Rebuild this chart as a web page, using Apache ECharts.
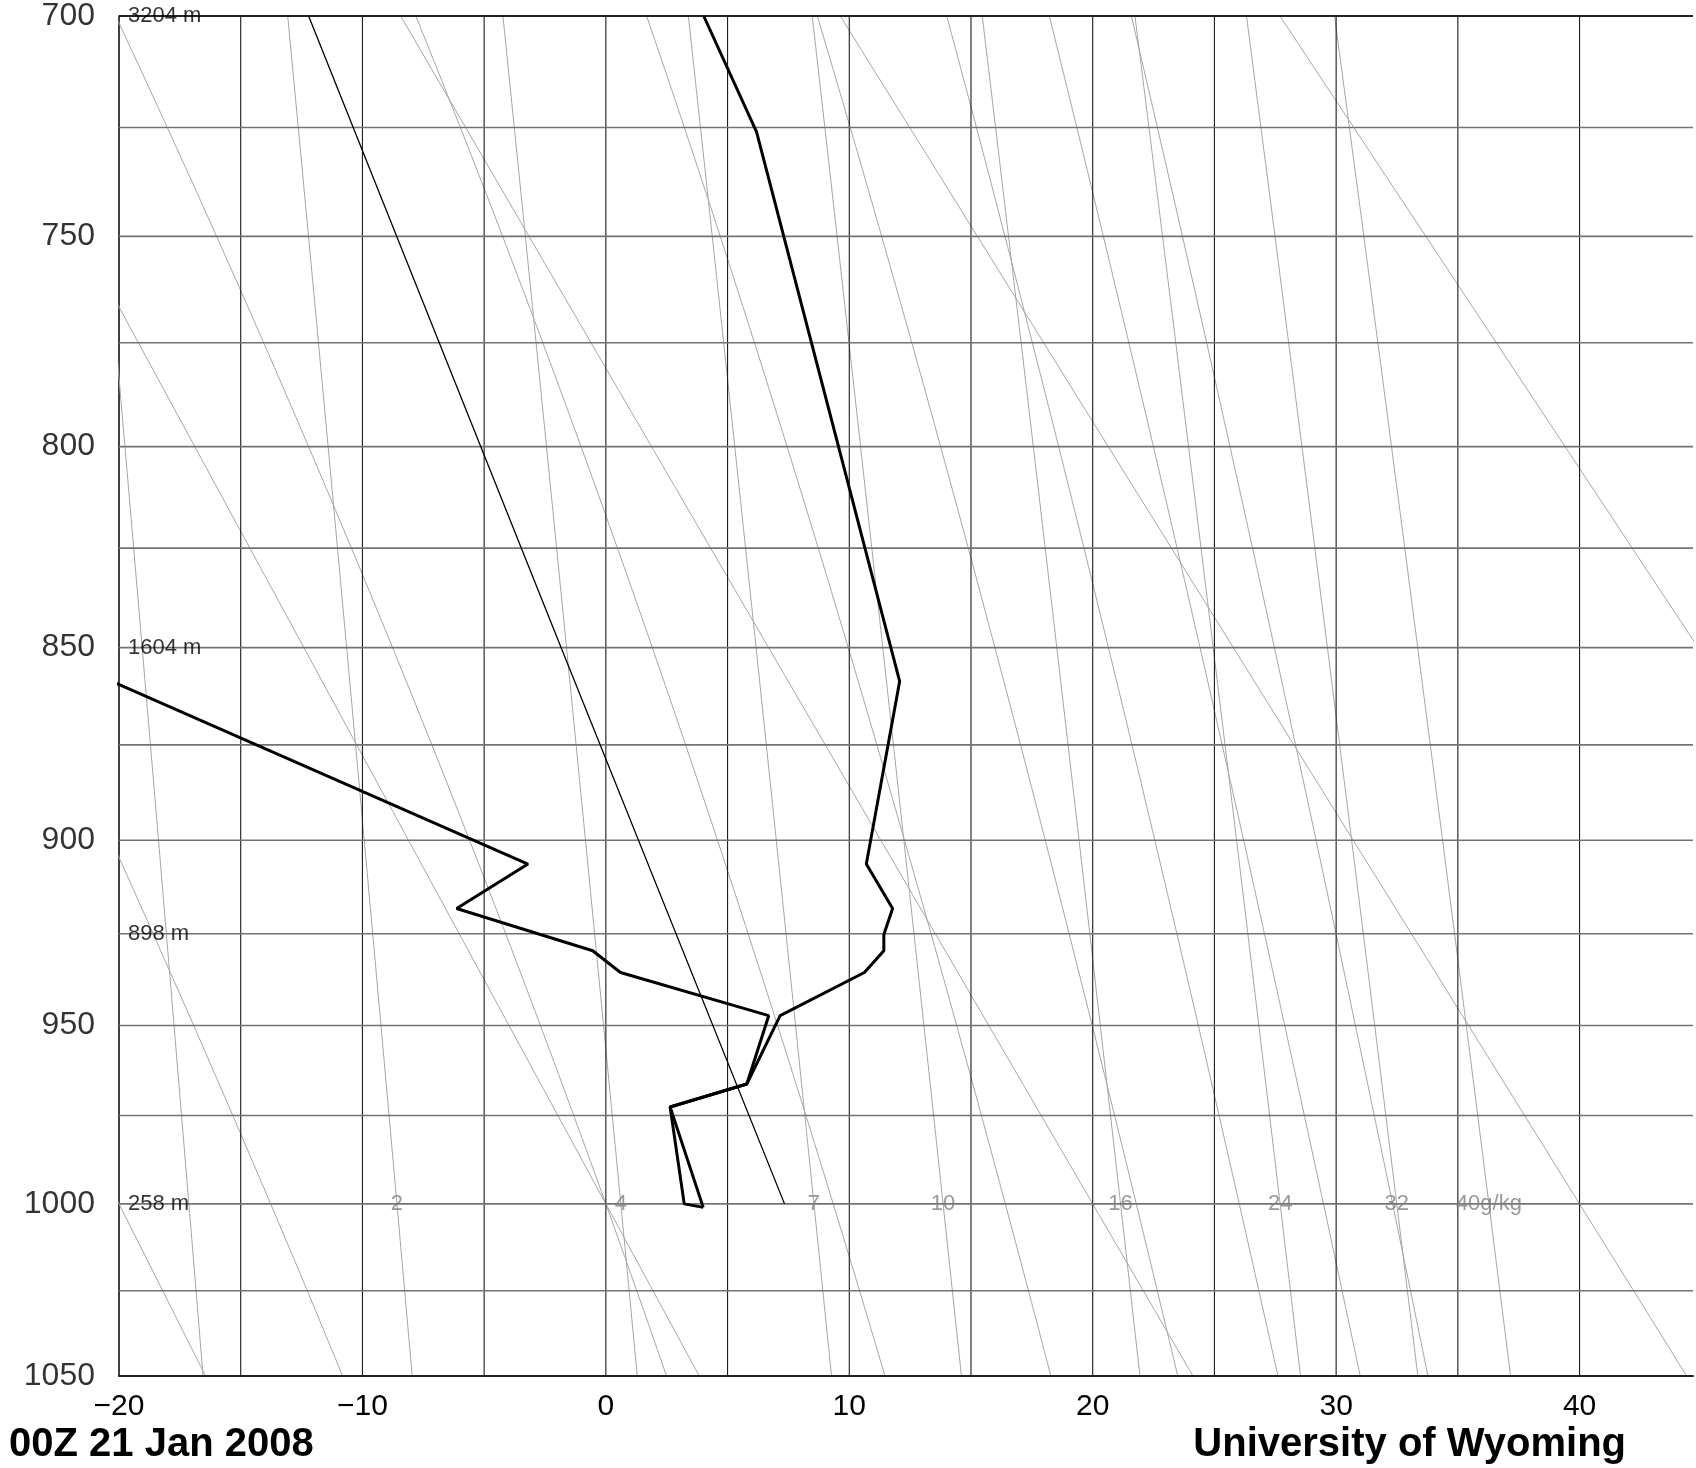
<!DOCTYPE html>
<html>
<head>
<meta charset="utf-8">
<script src="https://cdn.jsdelivr.net/npm/echarts@6/dist/echarts.min.js"></script>
<style>
html,body{margin:0;padding:0;background:#fff;overflow:hidden;}
#chart{width:1696px;height:1468px;}
</style>
</head>
<body>
<div id="chart"></div>
<script>
// ---------- data ----------
const pressureTicks = [700, 750, 800, 850, 900, 950, 1000, 1050];
const minorIsobars = [725, 775, 825, 875, 925, 975, 1025];
const isotherms = [-15, -10, -5, 0, 5, 10, 15, 20, 25, 30, 35, 40];
const heightLevels = [700, 850, 925, 1000];
const heightTexts = ['3204 m', '1604 m', '898 m', '258 m'];

// temperature trace
const tempP = [1001, 972.6, 966.2, 947.3, 935.5, 929.6, 925.2, 918.2, 906.3, 858.6, 726, 700];
const tempT = [4.0, 2.64, 5.79, 7.16, 10.62, 11.42, 11.42, 11.78, 10.70, 12.07, 6.19, 4.02];
// dewpoint trace
const dewP = [1001, 1000, 972.6, 966.2, 947.3, 935.5, 929.6, 918.2, 906.3, 858.6];
const dewT = [4.0, 3.22, 2.64, 5.79, 6.69, 0.60, -0.54, -6.13, -3.20, -20.3];
// thin parcel line
const parcelP = [1000, 850, 700];
const parcelT = [7.34, -1.84, -12.21];

// background diagram lines
const dryAdiabatT1000 = [-20, 0, 20, 40, 60];
const moistAdiabatT1000 = [-13.77, 0, 9.34, 16.41, 21.79, 26.02, 29.48, 32.32];
const mixingRatios = [1, 2, 4, 7, 10, 16, 24, 32, 40];
const mixingLabels = ['', '2', '4', '7', '10', '16', '24', '32', '40g/kg'];

// ---------- helpers ----------
const KAPPA = 0.286;
const py = p => Math.pow(p, KAPPA);
const XMIN = -20, XMAX = 44.66;
const FONT = "'Liberation Sans', Arial, Helvetica, sans-serif";

function es(T) { return 6.112 * Math.exp(17.67 * T / (T + 243.5)); }
function dewFromMix(w, p) {
  const e = w * p / (622 + w);
  const l = Math.log(e / 6.112);
  return 243.5 * l / (17.67 - l);
}
function moistRate(T, p) {
  const Tk = T + 273.15, e = es(T), r = 0.622 * e / (p - e);
  const Rd = 287.04, cp = 1005.7, L = 2.501e6, eps = 0.622;
  return (Rd * Tk + L * r) / (cp + L * L * r * eps / (Rd * Tk * Tk));
}
function moistLine(t1000) {
  function run(pEnd, n) {
    let T = t1000, lp = Math.log(1000);
    const h = (Math.log(pEnd) - lp) / n;
    const out = [[T, py(1000)]];
    for (let i = 0; i < n; i++) {
      const p = Math.exp(lp);
      const k1 = moistRate(T, p);
      const k2 = moistRate(T + h * k1 / 2, Math.exp(lp + h / 2));
      const k3 = moistRate(T + h * k2 / 2, Math.exp(lp + h / 2));
      const k4 = moistRate(T + h * k3, Math.exp(lp + h));
      T += h * (k1 + 2 * k2 + 2 * k3 + k4) / 6;
      lp += h;
      out.push([T, py(Math.exp(lp))]);
    }
    return out;
  }
  const down = run(1050, 10).reverse();
  const up = run(690, 60);
  return down.concat(up.slice(1));
}

const bgStyle = { color: '#a6a6a6', width: 1 };
const series = [];
function addLine(data, style, z) {
  series.push({ type: 'line', data, showSymbol: false, symbol: 'none', silent: true,
    lineStyle: style, z: z || 1, animation: false, clip: true });
}

// isotherms (vertical grid)
isotherms.forEach(t => addLine([[t, py(700)], [t, py(1050)]], { color: '#1a1a1a', width: 1.1 }, 2));
// isobars
minorIsobars.concat(pressureTicks).forEach(p => {
  const edge = (p === 700 || p === 1050);
  addLine([[XMIN, py(p)], [XMAX, py(p)]],
    edge ? { color: '#222', width: 2.2 } : { color: '#737373', width: 1.6 }, 2);
});
// dry adiabats
dryAdiabatT1000.forEach(t0 => {
  const th = t0 + 273.15;
  addLine([1050, 700].map(p => [th * Math.pow(p / 1000, KAPPA) - 273.15, py(p)]), bgStyle, 1);
});
// moist adiabats
moistAdiabatT1000.forEach(t0 => addLine(moistLine(t0), bgStyle, 1));
// mixing ratio lines
mixingRatios.forEach(w => {
  const d = [];
  for (let p = 1050; p >= 700; p -= 25) d.push([dewFromMix(w, p), py(p)]);
  addLine(d, bgStyle, 1);
});
// parcel
addLine(parcelP.map((p, i) => [parcelT[i], py(p)]), { color: '#000', width: 1.3 }, 5);
// temperature & dewpoint
addLine(tempP.map((p, i) => [tempT[i], py(p)]), { color: '#000', width: 3 }, 6);
addLine(dewP.map((p, i) => [dewT[i], py(p)]), { color: '#000', width: 3 }, 6);

// y tick labels
series.push({ type: 'scatter', symbolSize: 0, silent: true, clip: false, z: 7, animation: false,
  data: pressureTicks.map(p => ({ value: [XMIN, py(p)], name: String(p) })),
  label: { show: true, position: 'left', distance: 24, formatter: '{b}',
    fontSize: 32, color: '#000', fontFamily: FONT } });
// height labels
series.push({ type: 'scatter', symbolSize: 0, silent: true, clip: false, z: 7, animation: false,
  data: heightLevels.map((p, i) => ({ value: [XMIN, py(p)], name: heightTexts[i] })),
  label: { show: true, position: 'right', distance: 9, formatter: '{b}',
    fontSize: 22, color: '#000', fontFamily: FONT } });
// mixing ratio labels at 1000 hPa
series.push({ type: 'scatter', symbolSize: 0, silent: true, clip: false, z: 7, animation: false,
  data: mixingRatios.map((w, i) => ({ value: [dewFromMix(w, 1000), py(1000)], name: mixingLabels[i] })),
  label: { show: true, position: 'inside', formatter: '{b}',
    fontSize: 22, color: '#808080', fontFamily: FONT } });

const chart = echarts.init(document.getElementById('chart'), null, { renderer: 'canvas' });
chart.setOption({
  animation: false,
  backgroundColor: '#fff',
  grid: { left: 119, top: 16, right: 0, bottom: 92 },
  xAxis: {
    type: 'value', min: XMIN, max: XMAX, interval: 5,
    axisLine: { show: true, onZero: false, lineStyle: { color: '#222', width: 2.2 } },
    axisTick: { show: false },
    splitLine: { show: false },
    axisLabel: {
      fontSize: 30, color: '#000', fontFamily: FONT, margin: 16,
      formatter: v => (Math.abs(v % 10) < 1e-9 ? String(v).replace('-', '\u2212') : '')
    }
  },
  yAxis: {
    type: 'value', min: py(700), max: py(1050), inverse: true,
    axisLine: { show: true, onZero: false, lineStyle: { color: '#000', width: 1.5 } },
    axisTick: { show: false }, axisLabel: { show: false }, splitLine: { show: false }
  },
  graphic: [
    { type: 'text', left: 9, top: 1425, silent: true,
      style: { text: '00Z 21 Jan 2008', font: "bold 40px 'Liberation Sans', Arial, sans-serif", fill: '#000' } },
    { type: 'text', right: 70, top: 1425, silent: true,
      style: { text: 'University of Wyoming', font: "bold 40px 'Liberation Sans', Arial, sans-serif", fill: '#000' } }
  ],
  series
});
</script>
</body>
</html>
